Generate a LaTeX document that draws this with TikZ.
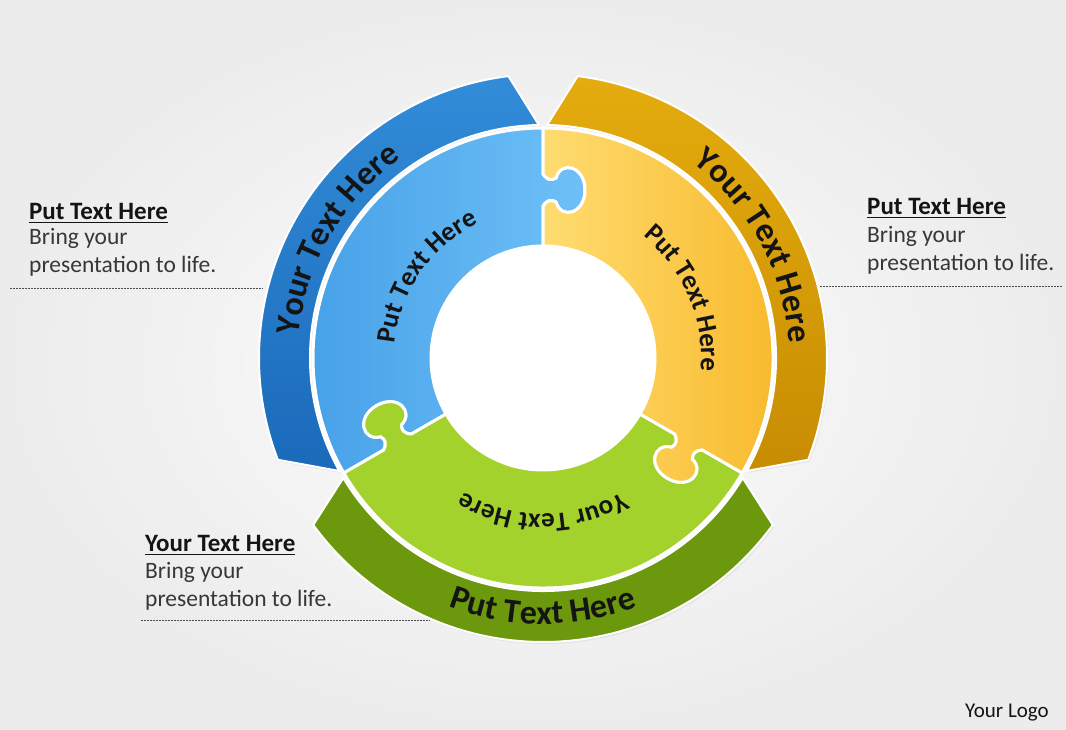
\documentclass[tikz,border=0pt]{standalone}
\usepackage{fontspec}
\setmainfont{Carlito}
\usetikzlibrary{positioning,decorations.text,shadows}

\definecolor{bgray}{RGB}{236,236,236}
\definecolor{blueA}{RGB}{110,192,247}
\definecolor{blueB}{RGB}{72,162,232}
\definecolor{blueC}{RGB}{50,140,216}
\definecolor{blueD}{RGB}{26,106,186}
\definecolor{orA}{RGB}{255,220,112}
\definecolor{orB}{RGB}{247,182,38}
\definecolor{orC}{RGB}{228,172,14}
\definecolor{orD}{RGB}{200,140,2}
\definecolor{grA}{RGB}{208,246,80}
\definecolor{grB}{RGB}{164,210,44}
\definecolor{grC}{RGB}{152,198,30}
\definecolor{grD}{RGB}{108,152,14}
\definecolor{inkgray}{RGB}{20,20,20}

\newcommand\bandfont{\fontsize{34}{38}\selectfont\bfseries}
\newcommand\ringfont{\fontsize{27}{32}\selectfont\bfseries}
\newcommand\sideheadfont{\fontsize{25}{30}\selectfont\bfseries}
\newcommand\sidebodyfont{\fontsize{23.5}{28.5}\selectfont}
\newcommand\ulhead[1]{\leavevmode\setbox0=\hbox{#1}\rlap{\rule[-3.5pt]{\wd0}{1.7pt}}\box0}

% knob of a piece along the x axis, pointing to -y
\newcommand\knobout{-- (152,0) .. controls (158,-4) and (159,-8) .. (156,-13) .. controls (138,-18) and (144,-42) .. (168,-42) .. controls (192,-42) and (198,-18) .. (180,-13) .. controls (177,-8) and (178,-4) .. (184,0) -- (230,0)}
\newcommand\knobin{-- (184,0) .. controls (178,-4) and (177,-8) .. (180,-13) .. controls (198,-18) and (192,-42) .. (168,-42) .. controls (144,-42) and (138,-18) .. (156,-13) .. controls (159,-8) and (158,-4) .. (152,0) -- (112,0)}

\begin{document}
\begin{tikzpicture}[x=1pt,y=1pt]
  \tikzstyle{piece}=[draw=white,line width=3pt]
  \tikzstyle{band}=[draw=white,line width=2pt,drop shadow={opacity=0.12,shadow xshift=1.5pt,shadow yshift=-2pt}]
  \tikzstyle{curvetext}=[decorate,decoration={text along path,text align=center,text color=inkgray}]
  \tikzstyle{sidehead}=[font=\sideheadfont,text=inkgray,inner sep=0pt,anchor=base west]
  \tikzstyle{sidebody}=[font=\sidebodyfont,text=inkgray!85,inner sep=0pt,align=left]
  \tikzstyle{dashline}=[draw=gray!60!black,dash pattern=on 2pt off 1pt,line width=0.8pt]

  \useasboundingbox (0,0) rectangle (1066,730);
  \shade[inner color=gray!2,outer color=bgray] (0,0) rectangle (1066,730);

  \begin{scope}[shift={(543,372)}]
    % outer bands
    \shadedraw[band,top color=blueC,bottom color=blueD] (91:233) arc[start angle=91,end angle=209,radius=233] -- (201:284) arc[start angle=201,end angle=97,radius=284] -- cycle;
    \shadedraw[band,top color=orC,bottom color=orD] (-29:233) arc[start angle=-29,end angle=89,radius=233] -- (83:284) arc[start angle=83,end angle=-21,radius=284] -- cycle;
    \shadedraw[band,left color=grD,middle color=grC,right color=grD] (211:233) arc[start angle=211,end angle=329,radius=233] -- (324:284) arc[start angle=324,end angle=216,radius=284] -- cycle;
    \fill[white] (0,0) circle[radius=113];
    % puzzle ring
    \shadedraw[piece,left color=blueB,right color=blueA] (90:112) {[rotate=90] \knobout} arc[start angle=90,end angle=210,radius=230] {[rotate=210] \knobin} arc[start angle=210,end angle=90,radius=112] -- cycle;
    \shadedraw[piece,left color=grB,middle color=grA,right color=grB] (210:112) {[rotate=210] \knobout} arc[start angle=210,end angle=330,radius=230] {[rotate=330] \knobin} arc[start angle=330,end angle=210,radius=112] -- cycle;
    \shadedraw[piece,left color=orA,right color=orB] (-30:112) {[rotate=-30] \knobout} arc[start angle=-30,end angle=90,radius=230] {[rotate=90] \knobin} arc[start angle=90,end angle=-30,radius=112] -- cycle;
    % curved labels
    \path[curvetext,decoration={text={|\bandfont|Your Text Here}}] (190:245) arc[start angle=190,end angle=110,radius=245];
    \path[curvetext,decoration={text={|\bandfont|Your Text Here}}] (68:246) arc[start angle=68,end angle=-12,radius=246];
    \path[curvetext,decoration={text={|\bandfont|Put Text Here}}] (230:266) arc[start angle=230,end angle=310,radius=266];
    \path[curvetext,decoration={text={|\ringfont|Put Text Here}}] (185:149) arc[start angle=185,end angle=105,radius=149];
    \path[curvetext,decoration={text={|\ringfont|Put Text Here}}] (63:158) arc[start angle=63,end angle=-17,radius=158];
    \path[curvetext,decoration={text={|\ringfont|Your Text Here}}] (310:156) arc[start angle=310,end angle=230,radius=156];
  \end{scope}

  % side notes
  \node[sidehead] (lhead) at (29,510) {\ulhead{Put Text Here}};
  \node[sidebody,below=53pt of lhead.base west,anchor=base west] (lbody) {Bring your\\presentation to life.};
  \node[sidehead] (rhead) at (867,515) {\ulhead{Put Text Here}};
  \node[sidebody,below=56pt of rhead.base west,anchor=base west] (rbody) {Bring your\\presentation to life.};
  \node[sidehead] (bhead) at (145,178) {\ulhead{Your Text Here}};
  \node[sidebody,below=55pt of bhead.base west,anchor=base west] (bbody) {Bring your\\presentation to life.};
  \coordinate (lfrom) at (10,442);
  \coordinate (lto) at (263,442);
  \coordinate (rfrom) at (820,444);
  \coordinate (rto) at (1062,444);
  \coordinate (bfrom) at (141,110);
  \coordinate (bto) at (430,110);
  \draw[dashline] (lfrom) -- (lto);
  \draw[dashline] (rfrom) -- (rto);
  \draw[dashline] (bfrom) -- (bto);

  \node[font=\fontsize{21}{25}\selectfont,text=inkgray,inner sep=0pt,anchor=base west] (logo) at (965,12) {Your Logo};
\end{tikzpicture}
\end{document}
